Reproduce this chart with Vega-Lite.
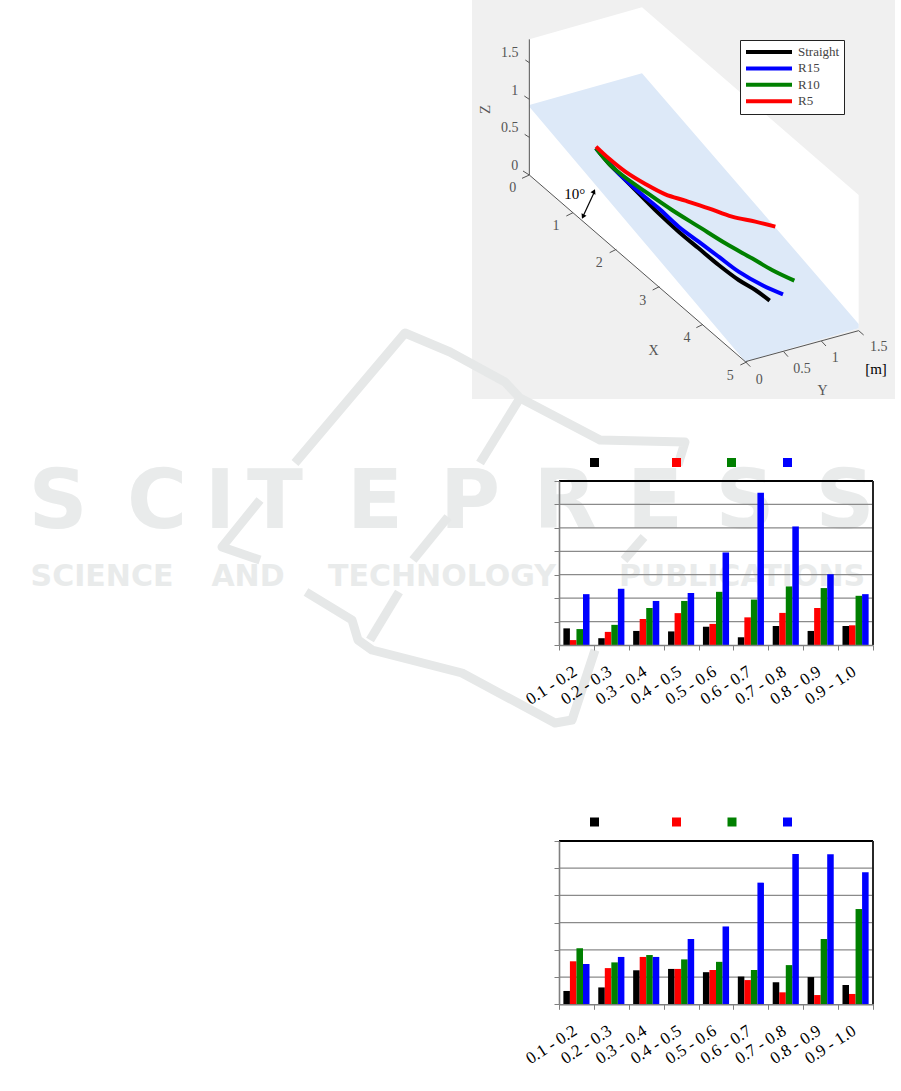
{
"$schema":"https://vega.github.io/schema/vega-lite/v6.json",
"width":901,"height":1091,"padding":0,
"autosize":{"type":"none"},
"background":"#ffffff",
"config":{"view":{"stroke":null},"font":"Liberation Serif"},
"datasets":{
"c1":[
{"bin":"0.1 - 0.2","series":"Straight","v":0.71},{"bin":"0.2 - 0.3","series":"Straight","v":0.29},{"bin":"0.3 - 0.4","series":"Straight","v":0.60},{"bin":"0.4 - 0.5","series":"Straight","v":0.58},{"bin":"0.5 - 0.6","series":"Straight","v":0.78},{"bin":"0.6 - 0.7","series":"Straight","v":0.33},{"bin":"0.7 - 0.8","series":"Straight","v":0.81},{"bin":"0.8 - 0.9","series":"Straight","v":0.60},{"bin":"0.9 - 1.0","series":"Straight","v":0.81},
{"bin":"0.1 - 0.2","series":"R5","v":0.21},{"bin":"0.2 - 0.3","series":"R5","v":0.56},{"bin":"0.3 - 0.4","series":"R5","v":1.11},{"bin":"0.4 - 0.5","series":"R5","v":1.36},{"bin":"0.5 - 0.6","series":"R5","v":0.90},{"bin":"0.6 - 0.7","series":"R5","v":1.18},{"bin":"0.7 - 0.8","series":"R5","v":1.37},{"bin":"0.8 - 0.9","series":"R5","v":1.58},{"bin":"0.9 - 1.0","series":"R5","v":0.84},
{"bin":"0.1 - 0.2","series":"R10","v":0.68},{"bin":"0.2 - 0.3","series":"R10","v":0.86},{"bin":"0.3 - 0.4","series":"R10","v":1.58},{"bin":"0.4 - 0.5","series":"R10","v":1.88},{"bin":"0.5 - 0.6","series":"R10","v":2.27},{"bin":"0.6 - 0.7","series":"R10","v":1.94},{"bin":"0.7 - 0.8","series":"R10","v":2.50},{"bin":"0.8 - 0.9","series":"R10","v":2.43},{"bin":"0.9 - 1.0","series":"R10","v":2.10},
{"bin":"0.1 - 0.2","series":"R15","v":2.17},{"bin":"0.2 - 0.3","series":"R15","v":2.40},{"bin":"0.3 - 0.4","series":"R15","v":1.88},{"bin":"0.4 - 0.5","series":"R15","v":2.22},{"bin":"0.5 - 0.6","series":"R15","v":3.95},{"bin":"0.6 - 0.7","series":"R15","v":6.50},{"bin":"0.7 - 0.8","series":"R15","v":5.06},{"bin":"0.8 - 0.9","series":"R15","v":3.02},{"bin":"0.9 - 1.0","series":"R15","v":2.17}],
"c2":[
{"bin":"0.1 - 0.2","series":"Straight","v":0.49},{"bin":"0.2 - 0.3","series":"Straight","v":0.62},{"bin":"0.3 - 0.4","series":"Straight","v":1.25},{"bin":"0.4 - 0.5","series":"Straight","v":1.30},{"bin":"0.5 - 0.6","series":"Straight","v":1.18},{"bin":"0.6 - 0.7","series":"Straight","v":1.02},{"bin":"0.7 - 0.8","series":"Straight","v":0.81},{"bin":"0.8 - 0.9","series":"Straight","v":1.00},{"bin":"0.9 - 1.0","series":"Straight","v":0.71},
{"bin":"0.1 - 0.2","series":"R5","v":1.58},{"bin":"0.2 - 0.3","series":"R5","v":1.33},{"bin":"0.3 - 0.4","series":"R5","v":1.74},{"bin":"0.4 - 0.5","series":"R5","v":1.30},{"bin":"0.5 - 0.6","series":"R5","v":1.26},{"bin":"0.6 - 0.7","series":"R5","v":0.89},{"bin":"0.7 - 0.8","series":"R5","v":0.44},{"bin":"0.8 - 0.9","series":"R5","v":0.34},{"bin":"0.9 - 1.0","series":"R5","v":0.38},
{"bin":"0.1 - 0.2","series":"R10","v":2.06},{"bin":"0.2 - 0.3","series":"R10","v":1.54},{"bin":"0.3 - 0.4","series":"R10","v":1.81},{"bin":"0.4 - 0.5","series":"R10","v":1.65},{"bin":"0.5 - 0.6","series":"R10","v":1.56},{"bin":"0.6 - 0.7","series":"R10","v":1.26},{"bin":"0.7 - 0.8","series":"R10","v":1.44},{"bin":"0.8 - 0.9","series":"R10","v":2.40},{"bin":"0.9 - 1.0","series":"R10","v":3.50},
{"bin":"0.1 - 0.2","series":"R15","v":1.48},{"bin":"0.2 - 0.3","series":"R15","v":1.74},{"bin":"0.3 - 0.4","series":"R15","v":1.74},{"bin":"0.4 - 0.5","series":"R15","v":2.40},{"bin":"0.5 - 0.6","series":"R15","v":2.86},{"bin":"0.6 - 0.7","series":"R15","v":4.47},{"bin":"0.7 - 0.8","series":"R15","v":5.52},{"bin":"0.8 - 0.9","series":"R15","v":5.51},{"bin":"0.9 - 1.0","series":"R15","v":4.85}],
"wmBig":[{"t":"S","x":58,"y":528},{"t":"C","x":157,"y":528},{"t":"I","x":220,"y":528},{"t":"T","x":275,"y":528},{"t":"E","x":375,"y":528},{"t":"P","x":470,"y":528},{"t":"R","x":565,"y":528},{"t":"E","x":655,"y":528},{"t":"S","x":745,"y":528},{"t":"S","x":845,"y":528}],
"wmSmall":[{"t":"SCIENCE","x":102,"y":586},{"t":"AND","x":248,"y":586},{"t":"TECHNOLOGY","x":442,"y":586},{"t":"PUBLICATIONS","x":742,"y":586}],
"wmLines":[
{"s":"a","o":1,"x":295,"y":463},{"s":"a","o":2,"x":405,"y":333},{"s":"a","o":3,"x":450,"y":352},{"s":"a","o":4,"x":505,"y":382},{"s":"a","o":5,"x":520,"y":398},{"s":"a","o":6,"x":600,"y":440},{"s":"a","o":7,"x":685,"y":442},{"s":"a","o":8,"x":678,"y":465},
{"s":"b","o":1,"x":520,"y":398},{"s":"b","o":2,"x":480,"y":463},
{"s":"c","o":1,"x":448,"y":517},{"s":"c","o":2,"x":413,"y":560},
{"s":"d","o":1,"x":644,"y":537},{"s":"d","o":2,"x":624,"y":560},
{"s":"e","o":1,"x":260,"y":500},{"s":"e","o":2,"x":222,"y":547},{"s":"e","o":3,"x":260,"y":560},
{"s":"f","o":1,"x":306,"y":592},{"s":"f","o":2,"x":352,"y":620},{"s":"f","o":3,"x":358,"y":640},{"s":"f","o":4,"x":372,"y":650},{"s":"f","o":5,"x":462,"y":673},{"s":"f","o":6,"x":555,"y":723},{"s":"f","o":7,"x":572,"y":720},{"s":"f","o":8,"x":595,"y":650},
{"s":"g","o":1,"x":399,"y":592},{"s":"g","o":2,"x":370,"y":640}],
"swatches":[
{"series":"Straight","x":594.5,"y":462.5},{"series":"R5","x":676.5,"y":462.5},{"series":"R10","x":731.5,"y":462.5},{"series":"R15","x":787.5,"y":462.5},
{"series":"Straight","x":594.5,"y":822},{"series":"R5","x":676.5,"y":822},{"series":"R10","x":732,"y":822},{"series":"R15","x":787.5,"y":822}],
"traj":[
{"series":"Straight","o":1,"x":372,"y":445},{"series":"Straight","o":2,"x":410,"y":490},{"series":"Straight","o":3,"x":450,"y":530},{"series":"Straight","o":4,"x":500,"y":580},{"series":"Straight","o":5,"x":560,"y":640},{"series":"Straight","o":6,"x":620,"y":695},{"series":"Straight","o":7,"x":680,"y":745},{"series":"Straight","o":8,"x":740,"y":795},{"series":"Straight","o":9,"x":800,"y":840},{"series":"Straight","o":10,"x":850,"y":870},{"series":"Straight","o":11,"x":893,"y":902},
{"series":"R15","o":1,"x":372,"y":445},{"series":"R15","o":2,"x":405,"y":480},{"series":"R15","o":3,"x":440,"y":520},{"series":"R15","o":4,"x":500,"y":575},{"series":"R15","o":5,"x":560,"y":625},{"series":"R15","o":6,"x":620,"y":680},{"series":"R15","o":7,"x":680,"y":725},{"series":"R15","o":8,"x":740,"y":770},{"series":"R15","o":9,"x":800,"y":815},{"series":"R15","o":10,"x":870,"y":855},{"series":"R15","o":11,"x":933,"y":883},
{"series":"R10","o":1,"x":372,"y":445},{"series":"R10","o":2,"x":410,"y":490},{"series":"R10","o":3,"x":450,"y":525},{"series":"R10","o":4,"x":520,"y":575},{"series":"R10","o":5,"x":600,"y":630},{"series":"R10","o":6,"x":680,"y":680},{"series":"R10","o":7,"x":760,"y":730},{"series":"R10","o":8,"x":840,"y":775},{"series":"R10","o":9,"x":900,"y":810},{"series":"R10","o":10,"x":967,"y":842},
{"series":"R5","o":1,"x":372,"y":440},{"series":"R5","o":2,"x":410,"y":475},{"series":"R5","o":3,"x":460,"y":515},{"series":"R5","o":4,"x":520,"y":552},{"series":"R5","o":5,"x":580,"y":583},{"series":"R5","o":6,"x":640,"y":602},{"series":"R5","o":7,"x":710,"y":625},{"series":"R5","o":8,"x":780,"y":650},{"series":"R5","o":9,"x":850,"y":665},{"series":"R5","o":10,"x":910,"y":680}],
"axes3d":[
{"s":"z","o":1,"x":172,"y":118},{"s":"z","o":2,"x":172,"y":525},
{"s":"x","o":1,"x":172,"y":525},{"s":"x","o":2,"x":820,"y":1085},
{"s":"y","o":1,"x":820,"y":1085},{"s":"y","o":2,"x":1160,"y":992},
{"s":"tz1","o":1,"x":160,"y":180},{"s":"tz1","o":2,"x":172,"y":188},
{"s":"tz2","o":1,"x":157,"y":288},{"s":"tz2","o":2,"x":172,"y":298},
{"s":"tz3","o":1,"x":158,"y":403},{"s":"tz3","o":2,"x":172,"y":412},
{"s":"tz4","o":1,"x":153,"y":513},{"s":"tz4","o":2,"x":172,"y":525},
{"s":"tx0","o":1,"x":150,"y":535},{"s":"tx0","o":2,"x":172,"y":525},
{"s":"tx1","o":1,"x":283,"y":648},{"s":"tx1","o":2,"x":303,"y":638},
{"s":"tx2","o":1,"x":413,"y":758},{"s":"tx2","o":2,"x":433,"y":748},
{"s":"tx3","o":1,"x":542,"y":870},{"s":"tx3","o":2,"x":562,"y":860},
{"s":"tx4","o":1,"x":673,"y":983},{"s":"tx4","o":2,"x":693,"y":973},
{"s":"tx5","o":1,"x":805,"y":1095},{"s":"tx5","o":2,"x":826,"y":1085},
{"s":"ty0","o":1,"x":820,"y":1085},{"s":"ty0","o":2,"x":835,"y":1100},
{"s":"ty1","o":1,"x":935,"y":1055},{"s":"ty1","o":2,"x":948,"y":1070},
{"s":"ty2","o":1,"x":1048,"y":1023},{"s":"ty2","o":2,"x":1062,"y":1038},
{"s":"ty3","o":1,"x":1160,"y":992},{"s":"ty3","o":2,"x":1175,"y":1005}],
"labels3d":[
{"t":"1.5","x":113,"y":160},{"t":"1","x":128,"y":272},{"t":"0.5","x":113,"y":385},{"t":"0","x":128,"y":497},
{"t":"0","x":122,"y":563},{"t":"1","x":252,"y":678},{"t":"2","x":382,"y":790},{"t":"3","x":512,"y":902},{"t":"4","x":645,"y":1013},{"t":"5","x":775,"y":1127},{"t":"X","x":545,"y":1052},
{"t":"0","x":862,"y":1140},{"t":"0.5","x":990,"y":1107},{"t":"1","x":1090,"y":1075},{"t":"1.5","x":1220,"y":1042},{"t":"Y","x":1052,"y":1172}]
},
"layer":[
{"layer":[
 {"data":{"values":[{"x":472,"x2":895,"y":0,"y2":399}]},"mark":{"type":"rect","color":"#f0f0f0"},
  "encoding":{"x":{"field":"x","type":"quantitative","scale":{"domain":[0,901],"range":[0,901],"nice":false,"zero":false},"axis":null},"x2":{"field":"x2"},"y":{"field":"y","type":"quantitative","scale":{"domain":[0,1091],"range":[0,1091],"nice":false,"zero":false},"axis":null},"y2":{"field":"y2"}}},
 {"data":{"name":"wmBig"},"mark":{"type":"text","font":"DejaVu Sans","fontWeight":"bold","fontSize":82,"color":"#e9ebeb","align":"center","baseline":"alphabetic"},
  "encoding":{"x":{"field":"x","type":"quantitative"},"y":{"field":"y","type":"quantitative"},"text":{"field":"t"}}},
 {"data":{"name":"wmSmall"},"mark":{"type":"text","font":"DejaVu Sans","fontWeight":"bold","fontSize":30,"color":"#e9ebeb","align":"center","baseline":"alphabetic"},
  "encoding":{"x":{"field":"x","type":"quantitative"},"y":{"field":"y","type":"quantitative"},"text":{"field":"t"}}},
 {"data":{"name":"wmLines"},"mark":{"type":"line","color":"#e6e8e8","strokeWidth":9,"strokeJoin":"round"},
  "encoding":{"x":{"field":"x","type":"quantitative"},"y":{"field":"y","type":"quantitative"},"detail":{"field":"s"},"order":{"field":"o","type":"quantitative"}}},
 {"data":{"name":"swatches"},"mark":{"type":"point","shape":"square","filled":true,"opacity":1,"size":81},
  "encoding":{"x":{"field":"x","type":"quantitative"},"y":{"field":"y","type":"quantitative"},"color":{"field":"series","type":"nominal","scale":{"domain":["Straight","R5","R10","R15"],"range":["#000000","#ff0000","#008000","#0000ff"]},"legend":null}}}
]},
{"layer":[
 {"data":{"values":[{"x":172,"y":118,"y2":525},{"x":510,"y":22,"y2":817},{"x":820,"y":290.5,"y2":1085},{"x":1160,"y":585,"y2":985}]},"mark":{"type":"area","color":"#ffffff","orient":"vertical"},
  "encoding":{"x":{"field":"x","type":"quantitative","scale":{"domain":[0,1269],"range":[472,895],"nice":false,"zero":false},"axis":null},"y":{"field":"y","type":"quantitative","stack":null,"scale":{"domain":[0,1197],"range":[0,399],"nice":false,"zero":false},"axis":null},"y2":{"field":"y2"}}},
 {"data":{"values":[{"x":172,"y":315,"y2":320},{"x":510,"y":220,"y2":719},{"x":820,"y":578,"y2":1085},{"x":1160,"y":972,"y2":985}]},"mark":{"type":"area","color":"#dde9f8","orient":"vertical"},
  "encoding":{"x":{"field":"x","type":"quantitative"},"y":{"field":"y","type":"quantitative","stack":null},"y2":{"field":"y2"}}},
 {"data":{"name":"axes3d"},"mark":{"type":"line","color":"#555555","strokeWidth":1},
  "encoding":{"x":{"field":"x","type":"quantitative"},"y":{"field":"y","type":"quantitative"},"detail":{"field":"s"},"order":{"field":"o","type":"quantitative"}}},
 {"data":{"name":"traj"},"mark":{"type":"line","strokeWidth":4,"interpolate":"catmull-rom"},
  "encoding":{"x":{"field":"x","type":"quantitative"},"y":{"field":"y","type":"quantitative"},"order":{"field":"o","type":"quantitative"},
   "color":{"field":"series","type":"nominal","sort":["Straight","R15","R10","R5"],"scale":{"domain":["Straight","R15","R10","R5"],"range":["#000000","#0000ff","#008000","#ff0000"]},
    "legend":{"title":null,"orient":"none","legendX":740,"legendY":40,"fillColor":"#ffffff","strokeColor":"#222222","padding":4,"symbolType":"stroke","symbolSize":2116,"symbolStrokeWidth":4,"clipHeight":16,"rowPadding":0.4,"labelFont":"Liberation Serif","labelFontSize":13,"labelColor":"#444444","labelOffset":4}}}},
 {"data":{"name":"labels3d"},"mark":{"type":"text","fontSize":14,"color":"#555555","align":"center","baseline":"middle"},
  "encoding":{"x":{"field":"x","type":"quantitative"},"y":{"field":"y","type":"quantitative"},"text":{"field":"t"}}},
 {"data":{"values":[{"t":"Z","x":38,"y":328}]},"mark":{"type":"text","fontSize":15,"angle":270,"color":"#555555","align":"center","baseline":"middle"},
  "encoding":{"x":{"field":"x","type":"quantitative"},"y":{"field":"y","type":"quantitative"},"text":{"field":"t"}}},
 {"data":{"values":[{"t":"10°","x":308,"y":583},{"t":"[m]","x":1212,"y":1108}]},"mark":{"type":"text","fontSize":15,"color":"#000000","align":"center","baseline":"middle"},
  "encoding":{"x":{"field":"x","type":"quantitative"},"y":{"field":"y","type":"quantitative"},"text":{"field":"t"}}},
 {"data":{"values":[{"o":1,"x":366,"y":578},{"o":2,"x":335,"y":645}]},"mark":{"type":"line","color":"#000000","strokeWidth":1.2},
  "encoding":{"x":{"field":"x","type":"quantitative"},"y":{"field":"y","type":"quantitative"},"order":{"field":"o","type":"quantitative"}}},
 {"data":{"values":[{"x":366,"y":574}]},"mark":{"type":"point","shape":"triangle-up","filled":true,"opacity":1,"size":30,"color":"#000000","angle":25},
  "encoding":{"x":{"field":"x","type":"quantitative"},"y":{"field":"y","type":"quantitative"}}},
 {"data":{"values":[{"x":333,"y":650}]},"mark":{"type":"point","shape":"triangle-down","filled":true,"opacity":1,"size":30,"color":"#000000","angle":25},
  "encoding":{"x":{"field":"x","type":"quantitative"},"y":{"field":"y","type":"quantitative"}}}
]},
{"data":{"values":[{"g":1},{"g":2},{"g":3},{"g":4},{"g":5},{"g":6}]},"layer":[
 {"mark":{"type":"rule","color":"#8a8a8a","strokeWidth":1.2},
  "encoding":{"x":{"datum":0,"type":"quantitative","scale":{"domain":[0,9],"range":[559,873]},"axis":null},"x2":{"datum":9},
   "y":{"field":"g","type":"quantitative","scale":{"domain":[0,7],"range":[645,481]},"axis":{"title":null,"orient":"left","zindex":1,"labels":false,"values":[0,1,2,3,4,5,6,7],"grid":false,"offset":-559,"domainColor":"#808080","domainWidth":1.6,"tickColor":"#808080","tickSize":5,"tickWidth":1}}}},
 {"mark":{"type":"rule","color":"#000000","strokeWidth":1.2},"encoding":{"x":{"datum":0,"type":"quantitative"},"x2":{"datum":9},"y":{"datum":7,"type":"quantitative"}}},
 {"mark":{"type":"rule","color":"#222222","strokeWidth":1},"encoding":{"x":{"datum":9,"type":"quantitative"},"y":{"datum":0,"type":"quantitative"},"y2":{"datum":7}}}
]},
{"data":{"name":"c1"},"mark":{"type":"bar"},
 "encoding":{
  "x":{"field":"bin","type":"nominal","sort":null,"scale":{"range":[559,873],"paddingInner":0,"paddingOuter":0},"axis":{"title":null,"orient":"bottom","zindex":1,"offset":-446,"labelAngle":-33,"labelAlign":"right","labelBaseline":"top","labelFont":"Liberation Serif","labelFontSize":17,"labelColor":"#000000","labelPadding":13,"labelOffset":-6,"tickBand":"extent","tickColor":"#808080","tickSize":5,"domainColor":"#808080","domainWidth":1.6}},
  "xOffset":{"field":"series","type":"nominal","sort":["Straight","R5","R10","R15"],"scale":{"paddingInner":0,"paddingOuter":0.67}},
  "y":{"field":"v","type":"quantitative","stack":null,"scale":{"domain":[0,7],"range":[645,481]},"axis":null},
  "color":{"field":"series","type":"nominal","scale":{"domain":["Straight","R5","R10","R15"],"range":["#000000","#ff0000","#008000","#0000ff"]},"legend":null}}},
{"data":{"values":[{"g":1},{"g":2},{"g":3},{"g":4},{"g":5}]},"layer":[
 {"mark":{"type":"rule","color":"#8a8a8a","strokeWidth":1.2},
  "encoding":{"x":{"datum":0,"type":"quantitative","scale":{"domain":[0,9],"range":[559,873]},"axis":null},"x2":{"datum":9},
   "y":{"field":"g","type":"quantitative","scale":{"domain":[0,6],"range":[1004.3,841]},"axis":{"title":null,"orient":"left","zindex":1,"labels":false,"values":[0,1,2,3,4,5,6],"grid":false,"offset":-559,"domainColor":"#808080","domainWidth":1.6,"tickColor":"#808080","tickSize":5,"tickWidth":1}}}},
 {"mark":{"type":"rule","color":"#000000","strokeWidth":1.4},"encoding":{"x":{"datum":0,"type":"quantitative"},"x2":{"datum":9},"y":{"datum":6,"type":"quantitative"}}},
 {"mark":{"type":"rule","color":"#222222","strokeWidth":1},"encoding":{"x":{"datum":9,"type":"quantitative"},"y":{"datum":0,"type":"quantitative"},"y2":{"datum":6}}}
]},
{"data":{"name":"c2"},"mark":{"type":"bar"},
 "encoding":{
  "x":{"field":"bin","type":"nominal","sort":null,"scale":{"range":[559,873],"paddingInner":0,"paddingOuter":0},"axis":{"title":null,"orient":"bottom","zindex":1,"offset":-86.7,"labelAngle":-33,"labelAlign":"right","labelBaseline":"top","labelFont":"Liberation Serif","labelFontSize":17,"labelColor":"#000000","labelPadding":13,"labelOffset":-6,"tickBand":"extent","tickColor":"#808080","tickSize":5,"domainColor":"#808080","domainWidth":1.6}},
  "xOffset":{"field":"series","type":"nominal","sort":["Straight","R5","R10","R15"],"scale":{"paddingInner":0,"paddingOuter":0.67}},
  "y":{"field":"v","type":"quantitative","stack":null,"scale":{"domain":[0,6],"range":[1004.3,841]},"axis":null},
  "color":{"field":"series","type":"nominal","scale":{"domain":["Straight","R5","R10","R15"],"range":["#000000","#ff0000","#008000","#0000ff"]},"legend":null}}}
],
"resolve":{"scale":{"x":"independent","y":"independent","color":"independent","xOffset":"independent"},"axis":{"x":"independent","y":"independent"},"legend":{"color":"independent"}}
}
